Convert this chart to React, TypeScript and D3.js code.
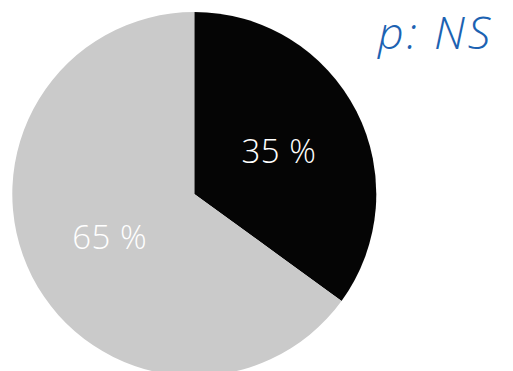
import React from "react";
import * as d3 from "d3";

const categories = ["A", "B"];
const values = [35, 65];
const labels = ["35 %", "65 %"];
const colors = ["#050505", "#cacaca"];
const title = "p: NS";

export default function App() {
  const W = 513, H = 371;
  const cx = 194.3, cy = 194, r = 182;
  const pie = d3.pie<number>().sort(null).value((d) => d);
  const arcs = pie(values);
  const arc = d3.arc<d3.PieArcDatum<number>>().innerRadius(0).outerRadius(r);
  const labelArc = d3.arc<d3.PieArcDatum<number>>().innerRadius(95).outerRadius(95);
  return (
    <svg width={W} height={H} style={{ position: "absolute", left: 0, top: 0, background: "#fff" }}>
      <g transform={`translate(${cx},${cy})`}>
        {arcs.map((a, i) => (
          <path key={categories[i]} d={arc(a) || ""} fill={colors[i]} />
        ))}
        {arcs.map((a, i) => {
          const [x, y] = labelArc.centroid(a);
          return (
            <text key={"l" + i} x={x} y={y} dy="0.36em" textAnchor="middle" fill="#fff"
              fontFamily="'Open Sans', 'Liberation Sans', sans-serif" fontWeight={300} fontSize={33}
              letterSpacing={0.5}>
              {labels[i]}
            </text>
          );
        })}
      </g>
      <text x={378} y={49} textAnchor="start" fill="#1c62b2" fontStyle="italic"
        fontFamily="'Open Sans', 'Liberation Sans', sans-serif" fontWeight={300} fontSize={45}
        letterSpacing={2.8}>
        {title}
      </text>
    </svg>
  );
}
